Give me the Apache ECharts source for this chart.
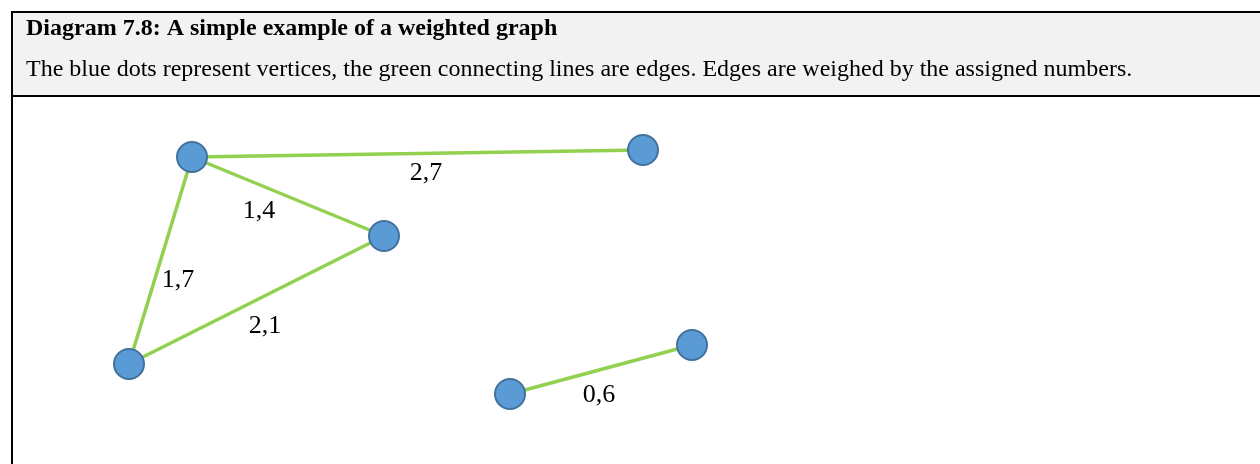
<!DOCTYPE html>
<html>
<head>
<meta charset="utf-8">
<script src="https://cdn.jsdelivr.net/npm/echarts@6/dist/echarts.min.js"></script>
<style>
  html, body { margin: 0; padding: 0; background: #fff; }
  #chart { width: 1260px; height: 464px; }
</style>
</head>
<body>
<div id="chart"></div>
<script>
(function(){
    "use strict";

    // vertices, in picture coordinates (x to the right, y down)
    var nodeNames = ['A', 'B', 'C', 'D', 'E', 'F'];
    var nodeX = [192, 384, 129, 643, 510, 692];
    var nodeY = [157, 236, 364, 150, 394, 345];

    // edges: from, to, weight
    var edgeFrom = ['A', 'A', 'A', 'B', 'E'];
    var edgeTo = ['D', 'B', 'C', 'C', 'F'];
    var edgeWeight = ['2,7', '1,4', '1,7', '2,1', '0,6'];
    // where each weight label sits
    var labelX = [426, 259, 178, 265, 599];
    var labelY = [173.5, 211, 280.5, 326, 395];

    var titleText = 'Diagram 7.8: A simple example of a weighted graph';
    var subText = 'The blue dots represent vertices, the green connecting lines are edges. Edges are weighed by the assigned numbers.';

    var serif = '"Liberation Serif", "DejaVu Serif", serif';

    var nodes = [];
    for (var i = 0; i < nodeNames.length; i++) {
        nodes.push({ name: nodeNames[i], value: [nodeX[i], nodeY[i]] });
    }
    var links = [];
    var labels = [];
    for (var j = 0; j < edgeFrom.length; j++) {
        links.push({ source: edgeFrom[j], target: edgeTo[j] });
        labels.push([labelX[j], labelY[j], j]);
    }

    var chart = echarts.init(document.getElementById('chart'));
    chart.setOption({
        animation: false,
        backgroundColor: '#ffffff',
        grid: { left: 0, right: 0, top: 0, bottom: 0 },
        xAxis: { type: 'value', min: 0, max: 1260, show: false },
        yAxis: { type: 'value', min: 0, max: 464, inverse: true, show: false },
        graphic: [
            {
                type: 'rect', z: -1,
                shape: { x: 12, y: 12, width: 1260, height: 84 },
                style: { fill: '#f2f2f2', stroke: '#000', lineWidth: 2 }
            },
            {
                type: 'rect', z: -1,
                shape: { x: 12, y: 96, width: 1260, height: 400 },
                style: { fill: 'none', stroke: '#000', lineWidth: 2 }
            },
            {
                type: 'text', x: 26, y: 41,
                style: { text: titleText, font: 'bold 24px ' + serif, fill: '#000', verticalAlign: 'bottom' }
            },
            {
                type: 'text', x: 26, y: 82,
                style: { text: subText, font: '24px ' + serif, fill: '#000', verticalAlign: 'bottom' }
            }
        ],
        series: [
            {
                type: 'graph',
                coordinateSystem: 'cartesian2d',
                layout: 'none',
                symbol: 'circle',
                symbolSize: 30,
                data: nodes,
                links: links,
                itemStyle: { color: '#5b9bd5', borderColor: '#41719c', borderWidth: 2 },
                lineStyle: { color: '#92d050', width: 3.5, opacity: 1, curveness: 0 },
                label: { show: false },
                silent: true
            },
            {
                // edge weights
                type: 'custom',
                data: labels,
                silent: true,
                renderItem: function (params, api) {
                    var pt = api.coord([api.value(0), api.value(1)]);
                    return {
                        type: 'text',
                        x: pt[0],
                        y: pt[1],
                        style: {
                            text: edgeWeight[api.value(2)],
                            font: '26px ' + serif,
                            fill: '#000',
                            align: 'center',
                            verticalAlign: 'middle'
                        }
                    };
                }
            }
        ]
    });
})();
</script>
</body>
</html>
